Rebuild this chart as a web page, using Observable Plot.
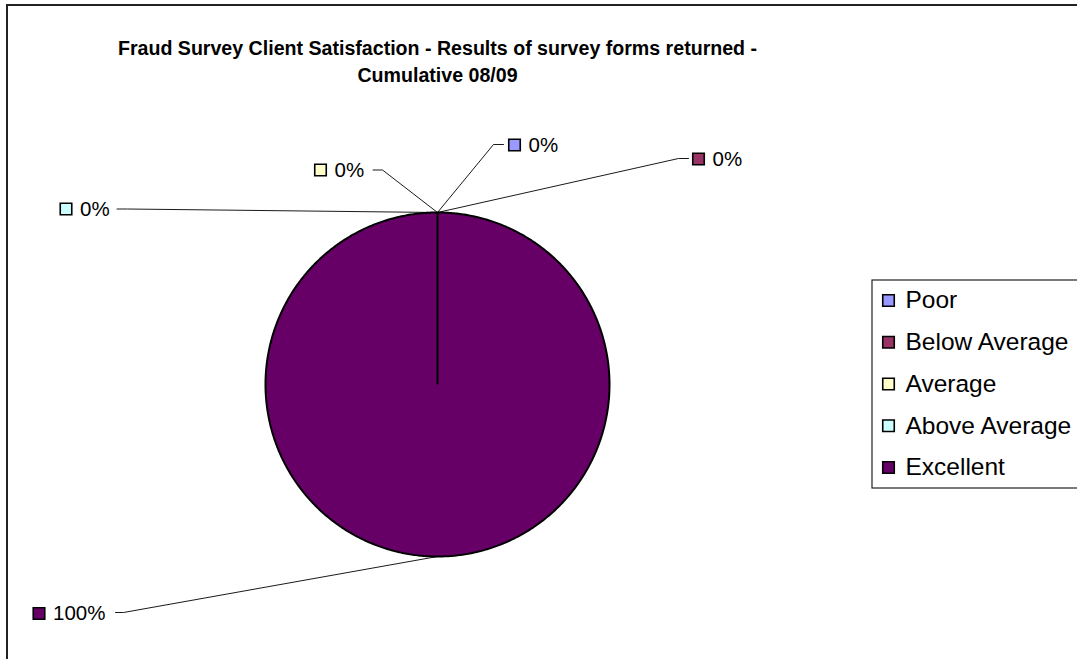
<!DOCTYPE html>
<html>
<head>
<meta charset="utf-8">
<script src="https://cdn.jsdelivr.net/npm/d3@7"></script>
<script src="https://cdn.jsdelivr.net/npm/@observablehq/plot@0.6"></script>
<style>
  html, body { margin: 0; padding: 0; background: #fff; }
  svg { display: block; }
</style>
</head>
<body>
<div id="chart"></div>
<script>
// ---- data ----
const categories = ["Poor", "Below Average", "Average", "Above Average", "Excellent"];
const values = [0, 0, 0, 0, 100];
const colors = ["#9999FF", "#993366", "#FFFFCC", "#CCFFFF", "#660066"];
const valueLabels = ["0%", "0%", "0%", "0%", "100%"];
const titleLines = ["Fraud Survey Client Satisfaction - Results of survey forms returned -", "Cumulative 08/09"];

// ---- layout (pixels) ----
const W = 1077, H = 659;
const pie = { cx: 437, cy: 384, r: 172 };
// data-label placement: square centre, leader elbow and leader tail for each slice
const labelSquare = [[514, 144.5], [698, 158.5], [320, 169.5], [65.5, 208.5], [38.5, 613]];
const labelElbow = [[493, 144], [678, 158], [382, 169.5], [127, 208.5], [123, 612]];
const labelTail = [[503, 144], [688, 158], [372.5, 169.5], [116.5, 208.5], [115, 612]];
const legend = { x1: 872, y1: 280, x2: 1100, y2: 488, sx: 888, tx: 905, y0: 300, dy: 41.75 };

// ---- pie geometry from data ----
const arcs = d3.pie().sort(null).value(d => d)(values);
const slicePts = [];
arcs.forEach((a, i) => {
  slicePts.push({ k: i, x: pie.cx, y: pie.cy });
  const n = Math.max(2, Math.ceil((a.endAngle - a.startAngle) / (Math.PI / 360)));
  for (let j = 0; j <= n; j++) {
    const t = a.startAngle + (a.endAngle - a.startAngle) * j / n;
    slicePts.push({ k: i, x: pie.cx + pie.r * Math.sin(t), y: pie.cy - pie.r * Math.cos(t) });
  }
});

const leaders = [];
arcs.forEach((a, i) => {
  const m = (a.startAngle + a.endAngle) / 2;
  leaders.push({ k: i, x: pie.cx + pie.r * Math.sin(m), y: pie.cy - pie.r * Math.cos(m) });
  leaders.push({ k: i, x: labelElbow[i][0], y: labelElbow[i][1] });
  leaders.push({ k: i, x: labelTail[i][0], y: labelTail[i][1] });
});

const labelRows = categories.map((c, i) => ({ c, i, x: labelSquare[i][0], y: labelSquare[i][1], label: valueLabels[i], color: colors[i] }));
const legendRows = categories.map((c, i) => ({ c, i, y: legend.y0 + i * legend.dy, color: colors[i] }));
const titleRows = titleLines.map((t, i) => ({ t, y: 48 + i * 27 }));

const chart = Plot.plot({
  width: W, height: H, margin: 0,
  style: { fontFamily: "'Liberation Sans', Arial, sans-serif", background: "#fff" },
  x: { domain: [0, W], range: [0, W], axis: null },
  y: { domain: [0, H], range: [0, H], axis: null },
  marks: [
    // chart area border
    Plot.rect([0], { x1: 7, y1: 5, x2: W + 20, y2: H + 20, fill: "white", stroke: "#222", strokeWidth: 2 }),
    // pie slices
    Plot.line(slicePts, { x: "x", y: "y", z: "k", curve: "linear-closed",
      fill: d => colors[d.k], stroke: "black", strokeWidth: 2, strokeLinejoin: "miter" }),
    // leader lines
    Plot.line(leaders, { x: "x", y: "y", z: "k", stroke: "black", strokeWidth: 0.9 }),
    // data label squares + text
    Plot.dot(labelRows, { x: "x", y: "y", symbol: "square", r: 6.5, fill: "color", stroke: "black", strokeWidth: 1.6 }),
    Plot.text(labelRows, { x: d => d.x + 14, y: "y", text: "label", textAnchor: "start", fontSize: 20.5, fill: "black" }),
    // title
    Plot.text(titleRows, { x: pie.cx, y: "y", text: "t", fontSize: 19.6, fontWeight: "bold", fill: "black" }),
    // legend
    Plot.rect([0], { x1: legend.x1, y1: legend.y1, x2: legend.x2, y2: legend.y2, fill: "white", stroke: "#222", strokeWidth: 1.2 }),
    Plot.dot(legendRows, { x: legend.sx, y: "y", symbol: "square", r: 6.5, fill: "color", stroke: "black", strokeWidth: 1.6 }),
    Plot.text(legendRows, { x: legend.tx, y: "y", text: "c", textAnchor: "start", fontSize: 24.5, fill: "black" })
  ]
});
document.getElementById("chart").appendChild(chart);
</script>
</body>
</html>
